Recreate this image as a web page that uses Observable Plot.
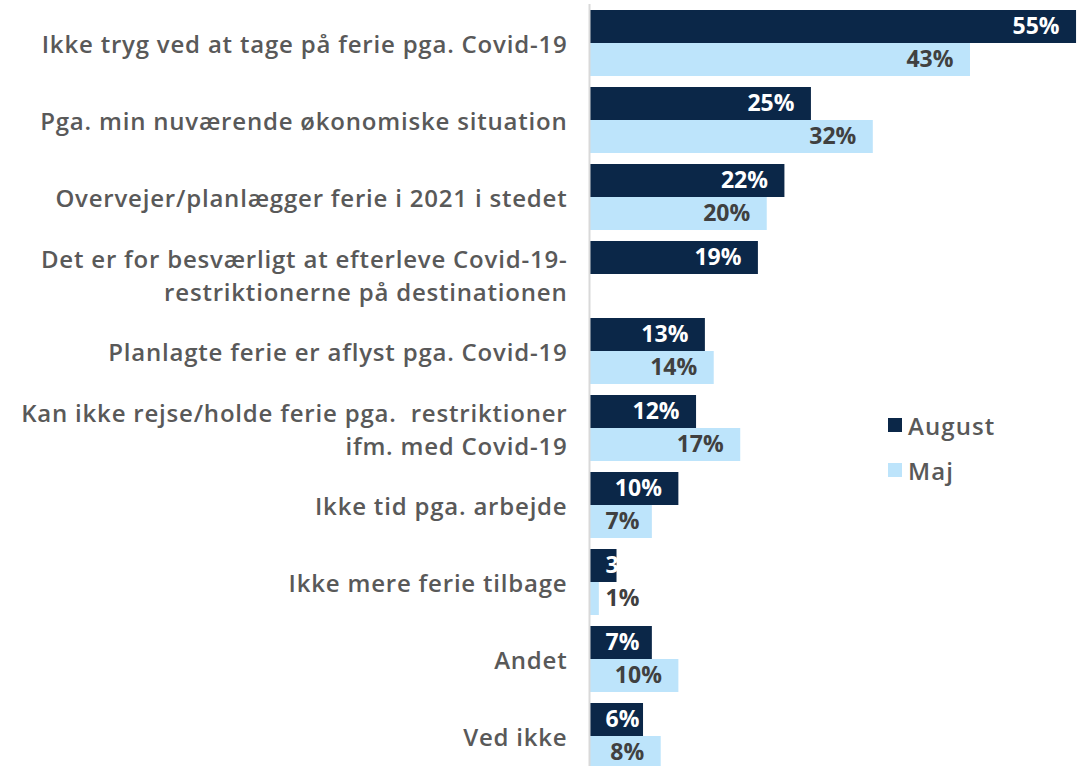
<!DOCTYPE html>
<html>
<head>
<meta charset="utf-8">
<script src="https://cdn.jsdelivr.net/npm/d3@7"></script>
<script src="https://cdn.jsdelivr.net/npm/@observablehq/plot@0.6"></script>
<style>
  html, body { margin: 0; padding: 0; background: #fff; overflow: hidden; }
  #wrap { position: relative; width: 1084px; height: 766px; }
  .legend { position: absolute; left: 888px; height: 30px; font-family: "Open Sans", sans-serif; font-weight: 600; font-size: 24px; letter-spacing: 1.1px; color: #595959; display: flex; align-items: center; }
  .legend span.sw { display: inline-block; width: 14px; height: 14px; margin-right: 6px; }
  g[aria-label="fy-axis tick label"] text { letter-spacing: 0.8px; }
</style>
</head>
<body>
<div id="wrap"></div>
<script>
const categories = [
  "Ikke tryg ved at tage på ferie pga. Covid-19",
  "Pga. min nuværende økonomiske situation",
  "Overvejer/planlægger ferie i 2021 i stedet",
  "Det er for besværligt at efterleve Covid-19-\nrestriktionerne på destinationen",
  "Planlagte ferie er aflyst pga. Covid-19",
  "Kan ikke rejse/holde ferie pga.  restriktioner\nifm. med Covid-19",
  "Ikke tid pga. arbejde",
  "Ikke mere ferie tilbage",
  "Andet",
  "Ved ikke"
];
const series = ["August", "Maj"];
const august = [55, 25, 22, 19, 13, 12, 10, 3, 7, 6];
const maj = [43, 32, 20, null, 14, 17, 7, 1, 10, 8];
const colors = ["#0b2748", "#bde4fb"];
const labelColors = ["#ffffff", "#404040"];

const rows = [];
categories.forEach((c, i) => {
  if (august[i] != null) rows.push({category: c, series: "August", value: august[i]});
  if (maj[i] != null) rows.push({category: c, series: "Maj", value: maj[i]});
});

const big = rows.filter(d => d.value >= 8);
const small = rows.filter(d => d.value < 8);
const fontFam = "'Open Sans', sans-serif";

const chart = Plot.plot({
  width: 1084,
  height: 766,
  marginLeft: 590,
  marginRight: 0,
  marginTop: 4,
  marginBottom: -8,
  style: {fontFamily: fontFam, color: "#595959", background: "#fff"},
  x: {domain: [0, 55.9], axis: null},
  y: {domain: series, paddingInner: 0, paddingOuter: 0.156, axis: null},
  fy: {domain: categories, padding: 0, label: null},
  color: {domain: series, range: colors},
  marks: [
    Plot.axisFy({anchor: "left", tickSize: 0, tickPadding: 23, label: null, fontSize: 24, fontWeight: 600, lineHeight: 1.36, fill: "#595959"}),
    Plot.barX(rows, {fy: "category", y: "series", x: "value", fill: "series"}),
    Plot.text(big, {fy: "category", y: "series", x: "value", text: d => d.value + "%", textAnchor: "end", dx: -17,
      fill: d => labelColors[series.indexOf(d.series)], fontSize: 23, fontWeight: 700}),
    Plot.text(small, {fy: "category", y: "series", x: 0, text: d => d.value + "%", textAnchor: "start", dx: 15,
      fill: d => labelColors[series.indexOf(d.series)], fontSize: 23, fontWeight: 700}),
    Plot.ruleX([0], {stroke: "#d9d9d9", strokeWidth: 2, dx: -1})
  ]
});

const wrap = document.getElementById("wrap");
wrap.appendChild(chart);

const tops = [410, 455];
series.forEach((s, i) => {
  const el = document.createElement("div");
  el.className = "legend";
  el.style.top = tops[i] + "px";
  el.innerHTML = `<span class="sw" style="background:${colors[i]}"></span><span>${s}</span>`;
  wrap.appendChild(el);
});
</script>
</body>
</html>
